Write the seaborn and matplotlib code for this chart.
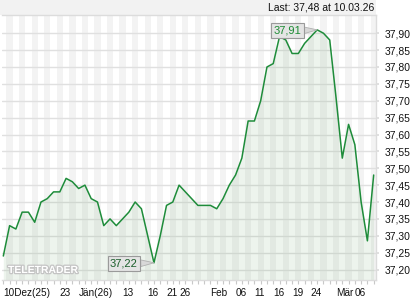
import numpy as np
import pandas as pd
import matplotlib
matplotlib.use("Agg")
import matplotlib.pyplot as plt
import seaborn as sns
from matplotlib.patches import Rectangle
import matplotlib.patheffects as pe

# ---- data ----
prices = [37.24, 37.33, 37.32, 37.37, 37.37, 37.34, 37.40, 37.41, 37.43, 37.43,
          37.47, 37.46, 37.44, 37.45, 37.41, 37.40, 37.33, 37.35, 37.33, 37.35,
          37.37, 37.40, 37.38, 37.30, 37.22, 37.30, 37.39, 37.40, 37.45, 37.43,
          37.41, 37.39, 37.39, 37.39, 37.38, 37.41, 37.45, 37.48, 37.53, 37.64,
          37.64, 37.70, 37.80, 37.81, 37.89, 37.88, 37.84, 37.84, 37.87, 37.89,
          37.91, 37.90, 37.88, 37.71, 37.53, 37.63, 37.57, 37.40, 37.285, 37.48]
xtick_labels = ["10Dez(25)", "23", "Jän(26)", "13", "16", "21", "26", "Feb",
                "06", "11", "16", "19", "24", "Mär", "06"]
xtick_idx = [0, 9, 12, 19, 23, 26, 28, 33, 37, 40, 43, 46, 49, 53, 56]
ytick_vals = [37.20, 37.25, 37.30, 37.35, 37.40, 37.45, 37.50, 37.55,
              37.60, 37.65, 37.70, 37.75, 37.80, 37.85, 37.90]
last_text = "Last: 37,48 at 10.03.26"

df = pd.DataFrame({"idx": np.arange(len(prices)), "price": prices})

sns.set_theme(style="white")
plt.rcParams["font.family"] = ["Liberation Sans", "DejaVu Sans"]

fig = plt.figure(figsize=(4.2, 3.0), dpi=100)
fig.patch.set_facecolor("white")
fig.add_artist(Rectangle((0, 285 / 300), 376 / 420, 15 / 300,
                         transform=fig.transFigure, fc="#f2f2f2", ec="none", zorder=0))
ax = fig.add_axes([2 / 420, 20 / 300, 374 / 420, 265 / 300])
ax.set_facecolor("white")

ymin, ymax = 37.169, 37.954
n = len(prices)
ax.set_xlim(-0.21, n - 1 + 0.37)
ax.set_ylim(ymin, ymax)

# stripes
for i in range(n):
    if i % 2 == 1:
        ax.axvspan(i - 0.5, i + 0.5, color="#f3f3f3", lw=0, zorder=0)

# grid
for v in ytick_vals:
    ax.axhline(v, color="#e0e0e0", lw=1, zorder=1)

ax.fill_between(df["idx"], df["price"], ymin, color="#3f8f3f", alpha=0.09, lw=0, zorder=2)
sns.lineplot(data=df, x="idx", y="price", color="#1e8c3a", lw=1.1, ax=ax, zorder=3)

# annotations for max/min
imax = int(np.argmax(prices))
imin = int(np.argmin(prices))
box = dict(boxstyle="square,pad=0.22", fc="#e4e4e4", ec="#9a9a9a", lw=0.8)
arrow = dict(arrowstyle="wedge,tail_width=0.6,shrink_factor=0.5", fc="#d8d8d8",
             ec="#b0b0b0", lw=0.6, shrinkA=0, shrinkB=0)
ax.annotate(f"{prices[imax]:.2f}".replace(".", ","), xy=(imax, prices[imax]),
            xytext=(-30, -1), textcoords="offset pixels", ha="center", va="center",
            fontsize=8, color="#1b8a32", bbox=box, arrowprops=arrow, zorder=5)
ax.annotate(f"{prices[imin]:.2f}".replace(".", ","), xy=(imin, prices[imin]),
            xytext=(-30, -1), textcoords="offset pixels", ha="center", va="center",
            fontsize=8, color="#1a5e2a", bbox=box, arrowprops=arrow, zorder=5)

# axes styling
ax.set_xlabel("")
ax.set_ylabel("")
ax.spines["left"].set_visible(False)
for s in ["top", "right", "bottom"]:
    ax.spines[s].set_color("#dcdcdc")
    ax.spines[s].set_linewidth(1)

ax.set_xticks(xtick_idx)
ax.set_xticklabels(xtick_labels)
for lab in ax.get_xticklabels():
    lab.set_horizontalalignment("left")
ax.set_xticks(np.arange(n), minor=True)
ax.tick_params(axis="x", which="both", bottom=True, length=3, color="#c8c8c8",
               width=0.8, labelsize=7.2, pad=3, labelcolor="#111111")

ax.yaxis.tick_right()
ax.set_yticks(ytick_vals)
ax.set_yticklabels([f"{v:.2f}".replace(".", ",") for v in ytick_vals])
ax.tick_params(axis="y", right=True, left=False, length=2, color="#dcdcdc",
               labelsize=7.5, pad=4, labelcolor="#111111")

fig.text(374 / 420, 1 - 7.5 / 300, last_text, ha="right", va="center",
         fontsize=7.5, color="#111111")

wm = fig.text(8 / 420, 1 - 270 / 300, "TELETRADER", ha="left", va="center",
              fontsize=7.5, fontweight="bold", color="white", zorder=6)
wm.set_path_effects([pe.Stroke(linewidth=1.8, foreground="#c4c4c4"), pe.Normal()])

fig.savefig("out.png", dpi=100)
